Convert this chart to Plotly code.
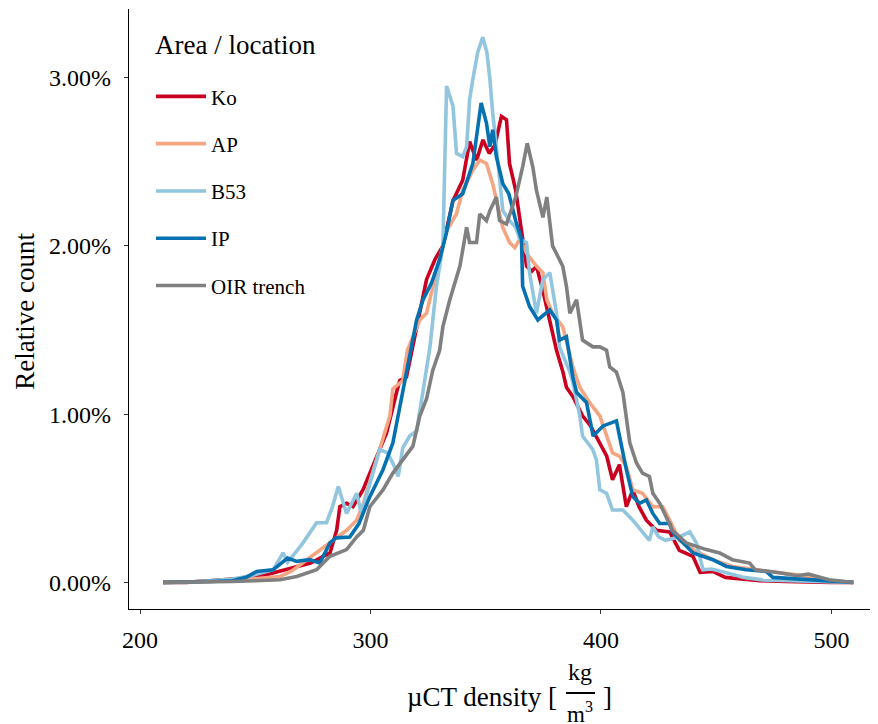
import plotly.graph_objects as go

# Relative count (in %) against µCT density
KO_X = [210, 220, 230, 240, 250, 256, 262, 268, 274, 279.5, 282.4, 285.3, 286.7, 289.6, 292.4,
        296.7, 301, 307, 311.3, 312.7, 315.6, 318.4, 321.4, 324.3, 328, 331.4, 335.8, 340, 343,
        346, 348.8, 351.5, 354, 356.8, 359, 360.3, 363, 364.8, 367.7, 370, 372, 374.5, 377.8,
        380.7, 383.5, 385, 388, 392, 395.5, 399.5, 402.5, 405, 408, 411, 413.8, 416.5, 419.7,
        424, 429.8, 434, 439.9, 443, 448.5, 454, 460, 469, 480, 490, 500, 509.5]
KO_Y = [0, 0, 0.01, 0.02, 0.03, 0.05, 0.07, 0.09, 0.115, 0.155, 0.175, 0.31, 0.45, 0.47, 0.45,
        0.55, 0.69, 0.89, 1.13, 1.2, 1.22, 1.4, 1.6, 1.8, 1.92, 2.0, 2.27, 2.39, 2.62,
        2.51, 2.63, 2.55, 2.6, 2.77, 2.75, 2.49, 2.33, 2.15, 1.88, 1.85, 1.88, 1.75, 1.56,
        1.38, 1.25, 1.16, 1.1, 0.99, 0.93, 0.83, 0.75, 0.61, 0.7, 0.45, 0.55, 0.45, 0.37,
        0.31, 0.30, 0.19, 0.155, 0.06, 0.065, 0.03, 0.02, 0.01, 0.005, 0, 0, 0]

AP_X = [210, 220, 230, 240, 250, 255, 260.7, 266, 271, 276.6, 282.4, 289.6, 294, 296.9, 302.6,
        308.4, 309.7, 314, 316, 321.4, 324.3, 328.6, 333, 337.3, 340, 344.4, 347.4, 350.3, 353,
        356, 357.4, 360.3, 362.6, 364.8, 368, 372, 374.8, 376.5, 379, 383.4, 387.8, 390.8, 395,
        399.5, 405, 408, 411, 413.8, 418, 422.5, 426.8, 429.8, 434, 440, 448.5, 457, 467,
        477.5, 485, 492, 500, 509.5]
AP_Y = [0, 0, 0.005, 0.01, 0.02, 0.025, 0.035, 0.07, 0.12, 0.175, 0.235, 0.31, 0.37, 0.47, 0.73,
        0.99, 1.15, 1.2, 1.38, 1.56, 1.6, 1.84, 2.09, 2.19, 2.33, 2.45, 2.51, 2.49, 2.37,
        2.19, 2.11, 2.02, 1.99, 2.04, 1.95, 1.88, 1.84, 1.68, 1.6, 1.52, 1.28, 1.16, 1.07,
        0.99, 0.77, 0.75, 0.69, 0.55, 0.53, 0.45, 0.45, 0.37, 0.25, 0.195, 0.135, 0.095, 0.075,
        0.057, 0.045, 0.03, 0.01, 0]

B53_X = [210, 220, 230, 240, 248, 254, 257.7, 262, 264, 267, 270.7, 276.6, 280.9, 283.5, 286,
         289.6, 292, 294, 296, 300, 304, 307.4, 310, 312, 314, 317, 320, 322.7, 325.8, 328.6,
         331.4, 333, 335.8, 337.3, 340, 341.7, 343, 344.4, 346.5, 348.7, 350.5, 351.8, 353,
         354.6, 356, 357.4, 360.3, 363, 364.8, 367.7, 369, 372, 374.8, 377.8, 380.7, 382,
         386.5, 387.8, 390.8, 392, 396.4, 398, 399.5, 402.4, 405, 409.5, 413.8, 418, 421,
         422.5, 425, 428, 434, 438.5, 441.4, 444.3, 448, 454.4, 462, 470, 480, 490, 500, 509.5]
B53_Y = [0, 0, 0.01, 0.02, 0.04, 0.06, 0.075, 0.176, 0.12, 0.17, 0.235, 0.355, 0.355, 0.45, 0.57,
         0.41, 0.47, 0.53, 0.41, 0.6, 0.79, 0.77, 0.7, 0.63, 0.8, 0.87, 0.9, 1.13, 1.4, 1.76,
         2.0, 2.95, 2.83, 2.55, 2.53, 2.59, 2.87, 2.99, 3.15, 3.24, 3.15, 2.99, 2.79,
         2.59, 2.39, 2.21, 2.15, 2.11, 2.04, 2.02, 1.84, 1.6, 1.8, 1.84, 1.6, 1.4,
         1.25, 1.19, 0.99, 0.87, 0.79, 0.73, 0.55, 0.53, 0.43, 0.43, 0.37, 0.30, 0.25,
         0.33, 0.27, 0.25, 0.27, 0.30, 0.235, 0.075, 0.08, 0.057, 0.03, 0.015, 0.01, 0.005, 0, 0]

IP_X = [210, 220, 230, 240, 246, 250.6, 257.7, 264, 268, 273.7, 278, 282.4, 285, 291, 295, 299.7,
        305.4, 309.7, 314, 317.8, 320, 322.8, 326.5, 330, 333, 335.7, 340, 344.4, 348, 350.3,
        351.8, 353, 354.6, 357.4, 360, 363, 365.5, 366, 369, 372.6, 377.8, 380.7, 382, 385,
        387.8, 389.4, 393.7, 396.6, 400.9, 406.7, 408, 411, 413.8, 416.8, 419.7, 422.5, 425.5,
        429.8, 431, 435.5, 440, 448.5, 454.4, 463, 471.7, 474.6, 485, 495, 509.5]
IP_Y = [0, 0, 0.005, 0.01, 0.03, 0.065, 0.075, 0.145, 0.125, 0.135, 0.115, 0.235, 0.265, 0.27,
        0.35, 0.51, 0.67, 0.83, 1.13, 1.38, 1.56, 1.68, 1.78, 1.92, 2.08, 2.27, 2.31, 2.49, 2.85,
        2.73, 2.59, 2.69, 2.53, 2.37, 2.31, 2.15, 2.04, 1.76, 1.64, 1.56, 1.62, 1.56, 1.44,
        1.46, 1.22, 1.13, 1.07, 0.87, 0.93, 0.96, 0.87, 0.67, 0.51, 0.47, 0.49, 0.41, 0.35,
        0.35, 0.30, 0.235, 0.175, 0.135, 0.095, 0.075, 0.065, 0.03, 0.02, 0.01, 0]

OIR_X = [210, 220, 230, 240, 250, 260.7, 268, 276.6, 282.4, 289.6, 294, 296.9, 299.7, 305.4,
         309.7, 314, 318.4, 321.4, 324.3, 327, 330, 331.4, 334.4, 338.8, 341.7, 343, 346, 347.4,
         350.3, 351.8, 354.6, 356, 359, 363, 364.8, 366, 368, 370.4, 372, 374.8, 376.5, 377.8,
         379, 383.4, 385, 386.5, 389.4, 392, 396.5, 399.5, 402.4, 403.8, 406.7, 409.5, 411,
         412.5, 415.4, 418, 421, 422.5, 425.5, 431, 437, 445.7, 451.5, 457, 464.5, 467, 477.5,
         485, 490, 499, 509.5]
OIR_Y = [0, 0, 0, 0.005, 0.01, 0.016, 0.035, 0.075, 0.155, 0.195, 0.27, 0.31, 0.45, 0.55,
         0.65, 0.73, 0.81, 0.99, 1.09, 1.26, 1.38, 1.52, 1.68, 1.88, 2.11, 2.02, 2.02, 2.19,
         2.15, 2.21, 2.29, 2.15, 2.13, 2.29, 2.39, 2.47, 2.61, 2.47, 2.33, 2.17, 2.29, 2.15,
         2.0, 1.88, 1.76, 1.6, 1.68, 1.44, 1.4, 1.4, 1.38, 1.28, 1.25, 1.13, 0.99,
         0.83, 0.71, 0.65, 0.63, 0.53, 0.47, 0.31, 0.235, 0.195, 0.175, 0.135, 0.115, 0.075, 0.057,
         0.04, 0.05, 0.016, 0]

NAMES = ['Ko', 'AP', 'B53', 'IP', 'OIR trench']
COLORS = ['#CA0020', '#F4A582', '#92C5DE', '#0571B0', '#808080']
SERIES = [(KO_X, KO_Y), (AP_X, AP_Y), (B53_X, B53_Y), (IP_X, IP_Y), (OIR_X, OIR_Y)]

X_TICKS = [200, 300, 400, 500]
Y_TICKS = [0, 1, 2, 3]
Y_TICK_LABELS = ['0.00%', '1.00%', '2.00%', '3.00%']

FONT = 'Liberation Serif, Times New Roman, DejaVu Serif, serif'

fig = go.Figure()

for name, color, (xs, ys) in zip(NAMES, COLORS, SERIES):
    fig.add_trace(go.Scatter(x=xs, y=ys, name=name, mode='lines', legendgroup=name,
                             line=dict(color=color, width=3.6)))

# the page body has an 8px margin, so the figure is 8px smaller than the window
fig.update_layout(
    width=870, height=716,
    margin=dict(l=121, r=0, t=1, b=115, autoexpand=False),
    paper_bgcolor='white', plot_bgcolor='white',
    font=dict(family=FONT, color='black', size=24),
    showlegend=True,
    legend=dict(x=0.0294, y=0.888, xanchor='left', yanchor='top',
                bgcolor='rgba(0,0,0,0)', tracegroupgap=17, itemwidth=50,
                font=dict(size=21, family=FONT)),
)

fig.update_xaxes(range=[195.2, 520.2], tickvals=X_TICKS, showgrid=False, zeroline=False,
                 showline=True, linecolor='black', linewidth=1.3, automargin=False,
                 ticks='outside', ticklen=4, tickwidth=1.3, tickcolor='#333333',
                 tickfont=dict(size=24, family=FONT), ticklabelstandoff=5)
fig.update_yaxes(range=[-0.158, 3.408], tickvals=Y_TICKS, ticktext=Y_TICK_LABELS,
                 showgrid=False, zeroline=False,
                 showline=True, linecolor='black', linewidth=1.3, automargin=False,
                 ticks='outside', ticklen=4, tickwidth=1.3, tickcolor='#333333',
                 tickfont=dict(size=24, family=FONT), ticklabelstandoff=8)

# legend title
fig.add_annotation(text='Area / location', xref='paper', yref='paper', x=0.032, y=0.94,
                   xanchor='left', yanchor='middle', showarrow=False,
                   font=dict(size=27, family=FONT))

# axis titles (x title drawn with a stacked fraction for the unit)
fig.add_annotation(text='Relative count', xref='paper', yref='paper', x=-0.139, y=0.497,
                   xanchor='center', yanchor='middle', textangle=-90, showarrow=False,
                   font=dict(size=27, family=FONT))
fig.add_annotation(text='µCT density [', xref='paper', yref='paper', x=0.5741, y=-0.1467,
                   xanchor='right', yanchor='middle', showarrow=False,
                   font=dict(size=27, family=FONT))
fig.add_annotation(text='kg', xref='paper', yref='paper', x=0.6021, y=-0.105,
                   xanchor='center', yanchor='middle', showarrow=False,
                   font=dict(size=24, family=FONT))
fig.add_annotation(text='m<sup>3</sup>', xref='paper', yref='paper', x=0.6021, y=-0.173,
                   xanchor='center', yanchor='middle', showarrow=False,
                   font=dict(size=23, family=FONT))
fig.add_annotation(text=']', xref='paper', yref='paper', x=0.6395, y=-0.1467,
                   xanchor='center', yanchor='middle', showarrow=False,
                   font=dict(size=27, family=FONT))
fig.add_shape(type='line', xref='paper', yref='paper', x0=0.5834, x1=0.6222, y0=-0.14, y1=-0.14,
              line=dict(color='black', width=2))

fig.write_html('out.html')
